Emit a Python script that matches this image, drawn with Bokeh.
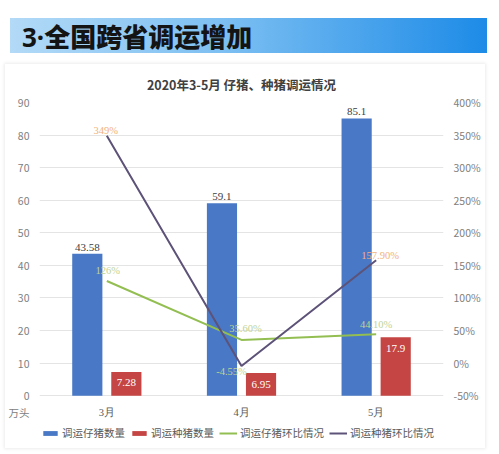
from bokeh.plotting import figure
from bokeh.models import (ColumnDataSource, FactorRange, Range1d, LinearAxis, FixedTicker,
                          PrintfTickFormatter, LabelSet, Legend, LegendItem, Div, Title)
from bokeh.transform import dodge
from bokeh.layouts import column
from bokeh.embed import file_html
from bokeh.resources import INLINE

# ---- data ----
months = ["3月", "4月", "5月"]
piglet_count = [43.58, 59.1, 85.1]          # 调运仔猪数量 (万头)
breeding_count = [7.28, 6.95, 17.9]          # 调运种猪数量 (万头)
piglet_mom = [126, 35.6, 44.1]               # 调运仔猪环比情况 (%)
breeding_mom = [349, -4.55, 157.9]           # 调运种猪环比情况 (%)
piglet_count_labels = ["43.58", "59.1", "85.1"]
breeding_count_labels = ["7.28", "6.95", "17.9"]
piglet_mom_labels = ["126%", "35.60%", "44.10%"]
breeding_mom_labels = ["349%", "-4.55%", "157.90%"]
left_ticks = [0, 10, 20, 30, 40, 50, 60, 70, 80, 90]
right_ticks = [-50, 0, 50, 100, 150, 200, 250, 300, 350, 400]
unit_label = "万头"

# ---- styles / layout constants ----
FONT = "Noto Sans CJK SC"
BLUE = "#4878C6"
RED = "#C44543"
GREEN = "#93BE52"
PURPLE = "#5D5278"
ORANGE_LBL = "#F2B27C"
GREEN_LBL = "#BFD494"

PLOT_PX = 294          # pixel height of the value area (0..90 / -50%..400%)
BELOW_PX = 47          # extra frame space below the zero line (category labels + legend)
L_LO, L_HI = 0, 90
R_LO, R_HI = -50, 400
l_pad = BELOW_PX * (L_HI - L_LO) / PLOT_PX
r_pad = BELOW_PX * (R_HI - R_LO) / PLOT_PX
unit_pos = L_LO - 17 * (L_HI - L_LO) / PLOT_PX   # row of the category labels

src = ColumnDataSource(dict(
    month=months, piglet=piglet_count, breeding=breeding_count,
    piglet_lbl=piglet_count_labels, breeding_lbl=breeding_count_labels,
))
src_pm = ColumnDataSource(dict(
    month=months, v=piglet_mom, lbl=piglet_mom_labels,
    xo=[1, 4, 0], yo=[10, 11, 10], col=[GREEN_LBL, GREEN_LBL, GREEN_LBL],
))
src_bm = ColumnDataSource(dict(
    month=months, v=breeding_mom, lbl=breeding_mom_labels,
    xo=[-1, -10, 4], yo=[5, -5, 5], col=[ORANGE_LBL, GREEN_LBL, ORANGE_LBL],
))

header = Div(
    text=('<div style="width:477px;height:35px;box-sizing:border-box;'
          'background:linear-gradient(to right,#b3daf7 0%,#7cbff2 45%,#1d8be7 100%);'
          'font-family:\'Noto Sans CJK SC\';font-weight:900;font-size:26px;line-height:35px;'
          'padding-left:12px;color:#141414;">'
          '<span style="font-family:\'Noto Sans\';font-weight:700;">3·</span>全国跨省调运增加</div>'),
    width=477, height=35, margin=(18, 0, 0, 10),
)

p = figure(
    width=480, height=384, x_range=FactorRange(*months),
    y_range=Range1d(L_LO - l_pad, L_HI),
    output_backend="svg", toolbar_location=None, margin=(11, 0, 0, 5),
    x_axis_location=None,
    min_border_left=28, min_border_right=42, min_border_top=37, min_border_bottom=6,
)
p.styles = {"box-shadow": "0 0 3px 1px #ececec"}
p.outline_line_color = None
p.background_fill_color = "white"
p.border_fill_color = "white"
p.extra_y_ranges = {"pct": Range1d(R_LO - r_pad, R_HI)}

p.title = Title(text="2020年3-5月 仔猪、种猪调运情况", align="center", standoff=17,
                text_font=FONT, text_font_size="12.5px", text_font_style="bold",
                text_color="#404040")

p.xgrid.grid_line_color = None
p.ygrid.grid_line_color = "#E4E4E4"
p.ygrid.ticker = FixedTicker(ticks=left_ticks)

def style_axis(ax):
    ax.axis_line_color = None
    ax.major_tick_line_color = None
    ax.minor_tick_line_color = None
    ax.major_tick_out = 0
    ax.major_tick_in = 0
    ax.major_label_text_font = FONT
    ax.major_label_text_font_size = "10.5px"
    ax.major_label_text_color = "#808080"
    ax.major_label_standoff = 10

# left axis: value ticks plus the unit label on the category row
p.yaxis.ticker = FixedTicker(ticks=[unit_pos] + left_ticks)
p.yaxis.major_label_overrides = {unit_pos: unit_label}
style_axis(p.yaxis[0])

rax = LinearAxis(y_range_name="pct", ticker=FixedTicker(ticks=right_ticks),
                 formatter=PrintfTickFormatter(format="%d%%"))
style_axis(rax)
p.add_layout(rax, "right")

b1 = p.vbar(x=dodge("month", -0.145, range=p.x_range), top="piglet", width=0.224,
            source=src, fill_color=BLUE, line_color=None)
b2 = p.vbar(x=dodge("month", 0.145, range=p.x_range), top="breeding", width=0.224,
            source=src, fill_color=RED, line_color=None)
l1 = p.line(x="month", y="v", source=src_pm, y_range_name="pct", line_color=GREEN, line_width=2)
l2 = p.line(x="month", y="v", source=src_bm, y_range_name="pct", line_color=PURPLE, line_width=2)

# category labels
p.add_layout(LabelSet(x="month", y=L_LO, text="month", source=src, y_offset=-17,
                      text_align="center", text_baseline="middle",
                      text_font=FONT, text_font_size="10.5px", text_color="#595959"))

p.add_layout(LabelSet(x=dodge("month", -0.145, range=p.x_range), y="piglet", text="piglet_lbl",
                      source=src, text_align="center", text_baseline="bottom", y_offset=3,
                      text_font=FONT, text_font_size="11px", text_color="#404040"))
p.add_layout(LabelSet(x=dodge("month", 0.145, range=p.x_range), y="breeding", text="breeding_lbl",
                      source=src, text_align="center", text_baseline="middle", y_offset=-11,
                      text_font=FONT, text_font_size="11px", text_color="white"))
for s in (src_pm, src_bm):
    p.add_layout(LabelSet(x="month", y="v", text="lbl", source=s, y_range_name="pct",
                          x_offset="xo", y_offset="yo", text_align="center", text_baseline="middle",
                          text_font=FONT, text_font_size="10.5px", text_color="col"))

legend = Legend(items=[
    LegendItem(label="调运仔猪数量", renderers=[b1]),
    LegendItem(label="调运种猪数量", renderers=[b2]),
    LegendItem(label="调运仔猪环比情况", renderers=[l1]),
    LegendItem(label="调运种猪环比情况", renderers=[l2]),
], orientation="horizontal", location=(2, 2), glyph_width=18, glyph_height=6,
    label_standoff=3, spacing=5, padding=0, margin=0,
    label_text_font=FONT, label_text_font_size="10.5px", label_text_color="#595959",
    background_fill_alpha=0, border_line_color=None)
p.add_layout(legend, "center")

layout = column(header, p)
open("out.html", "w").write(file_html(layout, INLINE))
